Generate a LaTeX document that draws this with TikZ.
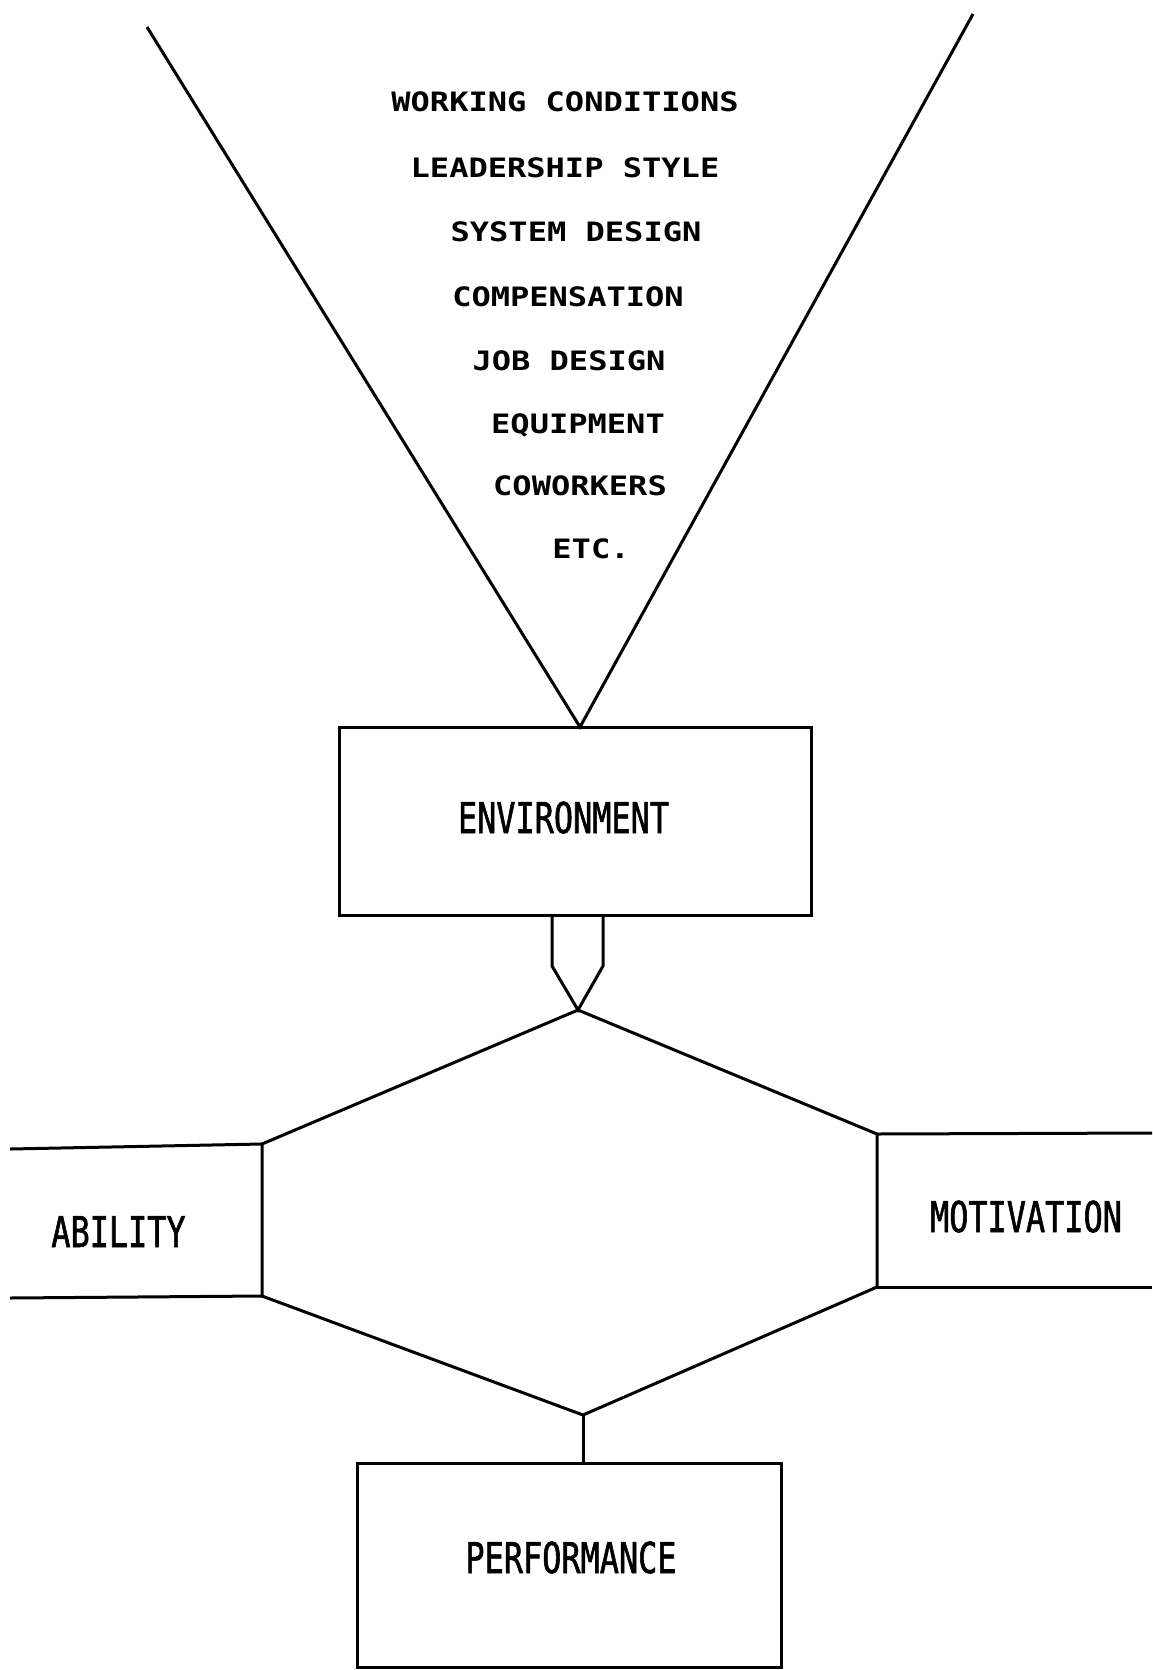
\documentclass[tikz,border=0pt]{standalone}
\usepackage{fontspec}
\newfontfamily\listfont[FakeStretch=1.2]{DejaVu Sans Mono}
\newfontfamily\boxfont[FakeStretch=0.75,FakeBold=1.3]{DejaVu Sans Mono}
\tikzset{
  ln/.style={line width=3pt, line join=miter},
  boxshape/.style={draw, ln, rectangle, inner sep=0pt},
  listitem/.style={inner sep=0pt, anchor=base, font=\listfont\bfseries\fontsize{26.7}{30}\selectfont},
  boxlabel/.style={inner sep=0pt, anchor=base, font=\boxfont\fontsize{42.5}{46}\selectfont},
}
\begin{document}
\begin{tikzpicture}[x=1pt,y=-1pt]
\useasboundingbox (0,0) rectangle (1152,1670);
% list of environment factors
\node[listitem] (wc) at (565,111) {WORKING CONDITIONS};
\node[listitem] (ls) at (565,177) {LEADERSHIP STYLE};
\node[listitem] (sd) at (576,241) {SYSTEM DESIGN};
\node[listitem] (cp) at (568,306) {COMPENSATION};
\node[listitem] (jd) at (569,370) {JOB DESIGN};
\node[listitem] (eq) at (578,433) {EQUIPMENT};
\node[listitem] (cw) at (580,495) {COWORKERS};
\node[listitem] (etc) at (591,558) {ETC.};
% environment box
\node[boxshape, minimum width=472pt, minimum height=188pt] (env) at (575,821) {};
\node[boxlabel] (envl) at (563.5,833) {ENVIRONMENT};
% funnel
\coordinate (vl) at (147,27);
\coordinate (vr) at (973,14);
\coordinate (apex) at (580,727);
\draw[ln] (vl) -- (apex) -- (vr);
% hexagon
\coordinate (hxT) at (578,1010);
\coordinate (hxUR) at (877,1134);
\coordinate (hxLR) at (877,1287);
\coordinate (hxB) at (583,1415);
\coordinate (hxLL) at (262,1296);
\coordinate (hxUL) at (262,1144);
\draw[ln] (hxT) -- (hxUR) -- (hxLR) -- (hxB) -- (hxLL) -- (hxUL) -- cycle;
% environment to hexagon connector
\coordinate (pl) at (552,914);
\coordinate (pr) at (603,914);
\draw[ln] (pl) -- (552,966) -- (hxT) -- (603,966) -- (pr);
% ability
\coordinate (abT) at (10,1149);
\coordinate (abB) at (10,1298);
\draw[ln] (abT) -- (hxUL);
\draw[ln] (abB) -- (hxLL);
\node[boxlabel] (abl) at (118.5,1247) {ABILITY};
% motivation
\coordinate (moT) at (1152,1133);
\coordinate (moB) at (1152,1287);
\draw[ln] (hxUR) -- (moT);
\draw[ln] (hxLR) -- (moB);
\node[boxlabel] (mol) at (1026,1232) {MOTIVATION};
% performance
\node[boxshape, minimum width=424pt, minimum height=204pt] (perf) at (569,1565) {};
\node[boxlabel] (perfl) at (571,1573) {PERFORMANCE};
\draw[ln] (hxB) -- (hxB |- perf.north);
\end{tikzpicture}
\end{document}
